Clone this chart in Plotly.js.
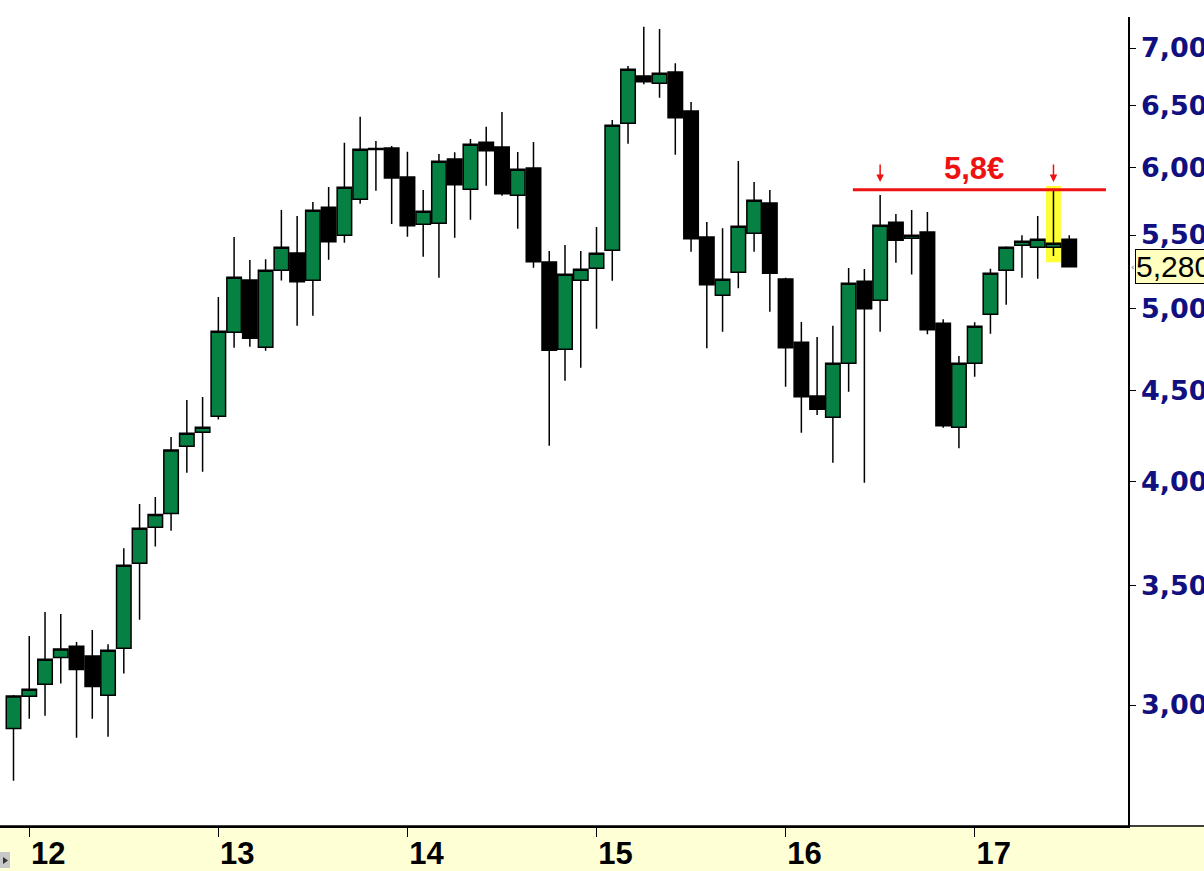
<!DOCTYPE html>
<html><head><meta charset="utf-8">
<script src="https://cdn.plot.ly/plotly-3.0.1.min.js"></script>
<style>html,body{margin:0;padding:0;background:#fff;overflow:hidden;} #chart{width:1204px;height:871px;}</style>
</head><body><div id="chart"></div>
<script>
// Monthly candles, Dec 2011 ... Jul 2017
const openP  = [2910,3034,3081,3190,3236,3196,3038,3228,3602,3773,3841,4188,4264,4353,4851,5190,4758,5255,5374,5188,5700,5498,5759,6149,6153,5927,5576,5584,6066,5834,6198,6161,5790,5996,5312,4746,5188,5269,5393,6352,6752,6689,6787,6454,5486,5088,5242,5512,5732,5197,4789,4469,4348,4661,5181,5056,5591,5477,5521,4908,4292,4661,4965,5255,5427,5413,5413,5470];
const highP  = [3039,3279,3382,3374,3254,3305,3244,3672,3888,3923,4238,4446,4463,5077,5486,5325,5330,5680,5636,5739,5851,6195,6407,6209,6169,6124,5829,6106,6119,6225,6324,6445,6121,6201,5388,5429,5388,5557,6379,6839,7195,7174,6863,6529,5593,5548,6051,5889,5829,5205,4916,4822,4893,5271,5264,5791,5651,5680,5666,4933,4705,4914,5266,5420,5498,5636,5829,5498];
const lowP   = [2721,2947,2959,3084,2876,2947,2880,3124,3349,3680,3756,4048,4053,4336,4756,4762,4738,5187,4893,4956,5328,5446,5727,5823,5579,5488,5348,5205,5481,5610,5861,5786,5545,5273,4191,4558,4635,4874,5185,6187,6680,6565,6100,5383,4752,4855,5135,5383,4982,4523,4262,4361,4100,4494,3996,4855,5307,5226,4839,4290,4177,4581,4843,5027,5205,5198,5353,5280];
const closeP = [3035,3062,3182,3225,3141,3072,3219,3592,3768,3836,4168,4259,4292,4858,5208,4814,5255,5413,5179,5678,5453,5849,6143,6141,5920,5566,5671,6048,5869,6182,6132,5801,5986,5314,4740,5228,5262,5372,6336,6810,6702,6775,6398,5474,5159,5195,5562,5752,5235,4756,4465,4393,4661,5168,5001,5569,5462,5498,4868,4301,4661,4889,5235,5413,5456,5470,5441,5280];

const yearTickIndex = [1, 13, 25, 37, 49, 61];
const yearLabels = ['12', '13', '14', '15', '16', '17'];
const priceTicks = [3000, 3500, 4000, 4500, 5000, 5500, 6000, 6500, 7000];
const resistance = 5830;
const resistanceLabel = '5,8€';
const lastPrice = 5280;
const lastPriceLabel = '5,280';
const markedCandles = [55, 66];
const highlightCandle = 66;

const xIdx = openP.map((_, i) => i);

const W = 1204, H = 871, ML = 0, MR = 76, MT = 17, MB = 45;
const PW = W - ML - MR, PH = H - MT - MB;

const trace = {
  type: 'candlestick',
  x: xIdx, open: openP, high: highP, low: lowP, close: closeP,
  increasing: {line: {color: '#000000', width: 1.5}, fillcolor: '#078043'},
  decreasing: {line: {color: '#000000', width: 1.5}, fillcolor: '#000000'},
  whiskerwidth: 0,
  hoverinfo: 'skip',
  showlegend: false
};

const shapes = [
  {type: 'rect', xref: 'x', yref: 'y', layer: 'below',
   x0: highlightCandle - 0.47, x1: highlightCandle + 0.47,
   y0: lowP[highlightCandle] * 0.992, y1: highP[highlightCandle] * 1.005,
   fillcolor: '#FFFF33', line: {width: 0}},
  {type: 'line', xref: 'x', yref: 'y', x0: 53.27, x1: 69.33, y0: resistance, y1: resistance,
   line: {color: '#EE1111', width: 3}},
  {type: 'rect', xref: 'paper', yref: 'paper', layer: 'below',
   x0: 0, x1: W / PW, y0: -MB / PH, y1: 0, fillcolor: '#FFFFD5', line: {width: 0}},
  {type: 'line', xref: 'paper', yref: 'paper', x0: 0, x1: W / PW, y0: 0, y1: 0,
   line: {color: '#000000', width: 1.5}},
  {type: 'rect', xref: 'paper', yref: 'paper', x0: 0, x1: 10 / PW, y0: -42 / PH, y1: -26 / PH,
   fillcolor: '#C8C8C8', line: {width: 0}},
  {type: 'path', xref: 'paper', yref: 'paper',
   path: `M ${3/PW} ${-31/PH} L ${3/PW} ${-38/PH} L ${8/PW} ${-34.5/PH} Z`,
   fillcolor: '#333333', line: {width: 0}}
];

const annotations = [
  {xref: 'x', yref: 'y', x: 60.95, y: Math.log10(5996), text: resistanceLabel, showarrow: false,
   font: {family: 'Liberation Sans, Arial, sans-serif', size: 31, color: '#EE1111', weight: 'bold'},
   xanchor: 'center', yanchor: 'middle'},
  {xref: 'paper', yref: 'y', x: 1 + 7 / PW, y: Math.log10(lastPrice), text: lastPriceLabel,
   showarrow: false, xanchor: 'left', yanchor: 'middle', bgcolor: '#FFFFC0', bordercolor: '#000000',
   borderwidth: 1, borderpad: 0,
   font: {family: 'Liberation Sans, Arial, sans-serif', size: 30, color: '#000000'}},
  {xref: 'paper', yref: 'y', x: 1 + 1 / PW, y: Math.log10(lastPrice), text: '‹', showarrow: false,
   xanchor: 'left', yanchor: 'middle', font: {family: 'DejaVu Sans', size: 9, color: '#666666'}}
];
markedCandles.forEach(i => {
  annotations.push({xref: 'x', yref: 'y', x: i, y: Math.log10(5890), text: '', showarrow: true,
    ax: 0, ay: -19, arrowhead: 2, arrowsize: 1, arrowwidth: 1.5, arrowcolor: '#EE1111'});
});

const layout = {
  width: W, height: H,
  margin: {l: ML, r: MR, t: MT, b: MB, pad: 0},
  paper_bgcolor: '#FFFFFF', plot_bgcolor: '#FFFFFF',
  showlegend: false, hovermode: false,
  boxgap: 0.08, boxgroupgap: 0,
  xaxis: {
    type: 'linear', range: [-0.857, 70.73], autorange: false,
    rangeslider: {visible: false},
    tickmode: 'array', tickvals: yearTickIndex, ticktext: yearLabels,
    ticks: 'outside', ticklen: 9, tickwidth: 1, tickcolor: '#000000',
    ticklabelshift: 19, ticklabelstandoff: -10,
    showline: true, linecolor: '#000000', linewidth: 1.5,
    showgrid: false, zeroline: false, automargin: false, fixedrange: true,
    tickfont: {family: 'Liberation Sans, Arial, sans-serif', size: 31, color: '#000000', weight: 'bold'}
  },
  yaxis: {
    type: 'log', side: 'right', range: [3.40935, 3.86246], autorange: false,
    tickmode: 'array', tickvals: priceTicks, tickformat: ',',
    ticks: 'outside', ticklen: 6, tickwidth: 1, tickcolor: '#000000',
    showline: true, linecolor: '#000000', linewidth: 1.5,
    showgrid: false, zeroline: false, automargin: false, fixedrange: true,
    tickfont: {family: 'DejaVu Sans, sans-serif', size: 27, color: '#101080', weight: 'bold'}
  },
  shapes: shapes,
  annotations: annotations
};

Plotly.newPlot('chart', [trace], layout, {displayModeBar: false, staticPlot: true});
</script>
</body></html>
